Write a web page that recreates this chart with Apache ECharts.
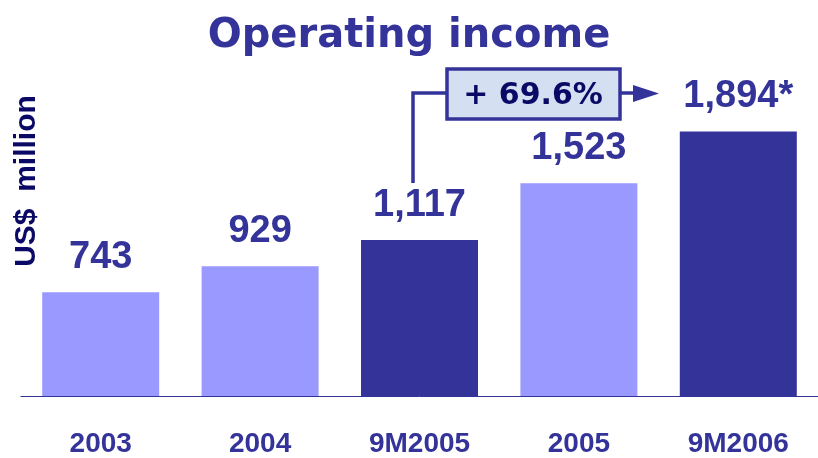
<!DOCTYPE html>
<html>
<head>
<meta charset="utf-8">
<script src="https://cdn.jsdelivr.net/npm/echarts@6/dist/echarts.min.js"></script>
<style>
  html, body { margin: 0; padding: 0; background: #fff; }
  #main { width: 818px; height: 458px; }
</style>
</head>
<body>
<div id="main"></div>
<script>
// Datos del gráfico
const categories = ["2003", "2004", "9M2005", "2005", "9M2006"];
const values = [743, 929, 1117, 1523, 1894];
const valueLabels = ["743", "929", "1,117", "1,523", "1,894*"];
const darkBars = [false, false, true, false, true];
const growthText = "+ 69.6%";

const NAVY = "#333399";
const LIGHT = "#9999ff";
const INK = "#0a0a66";

const chartDom = document.getElementById("main");
const myChart = echarts.init(chartDom);

const option = {
  animation: false,
  title: {
    text: "Operating income",
    left: "center",
    top: 12,
    textStyle: {
      color: NAVY,
      fontFamily: "DejaVu Sans",
      fontWeight: "bold",
      fontSize: 40,
    },
  },
  grid: { left: 21, right: -5, top: 0, bottom: 61 },
  xAxis: {
    type: "category",
    data: categories,
    axisTick: { show: false },
    axisLine: { lineStyle: { color: NAVY, width: 1 } },
    axisLabel: {
      color: NAVY,
      fontFamily: "Liberation Sans, Arial",
      fontWeight: "bold",
      fontSize: 28,
      margin: 34,
    },
  },
  yAxis: {
    type: "value",
    min: 0,
    max: 2836,
    show: false,
  },
  graphic: [
    {
      type: "text",
      x: 27,
      y: 181,
      rotation: Math.PI / 2,
      style: {
        text: "US$  million",
        fill: INK,
        font: "bold 30px 'Liberation Sans', Arial",
        textAlign: "center",
        textVerticalAlign: "middle",
      },
    },
    // Línea del crecimiento
    {
      type: "polyline",
      shape: { points: [[413, 183], [413, 93], [446, 93]] },
      style: { stroke: NAVY, lineWidth: 3.5, fill: null },
    },
    {
      type: "rect",
      shape: { x: 447, y: 69, width: 173, height: 50 },
      style: { fill: "#d4dff2", stroke: NAVY, lineWidth: 3.5 },
    },
    {
      type: "text",
      x: 533,
      y: 96,
      style: {
        text: growthText,
        fill: INK,
        font: "bold 30px 'DejaVu Sans'",
        textAlign: "center",
        textVerticalAlign: "middle",
      },
    },
    {
      type: "line",
      shape: { x1: 621, y1: 93, x2: 636, y2: 93 },
      style: { stroke: NAVY, lineWidth: 3.5 },
    },
    {
      type: "polygon",
      shape: { points: [[633, 85], [659, 93.5], [633, 102]] },
      style: { fill: NAVY },
    },
  ],
  series: [
    {
      type: "bar",
      barWidth: 117,
      data: values.map((v, i) => ({
        value: v,
        itemStyle: { color: darkBars[i] ? NAVY : LIGHT },
      })),
      label: {
        show: true,
        position: "top",
        distance: 16,
        color: NAVY,
        fontFamily: "Liberation Sans, Arial",
        fontWeight: "bold",
        fontSize: 38,
        formatter: (p) => valueLabels[p.dataIndex],
      },
    },
  ],
};

myChart.setOption(option);
</script>
</body>
</html>
